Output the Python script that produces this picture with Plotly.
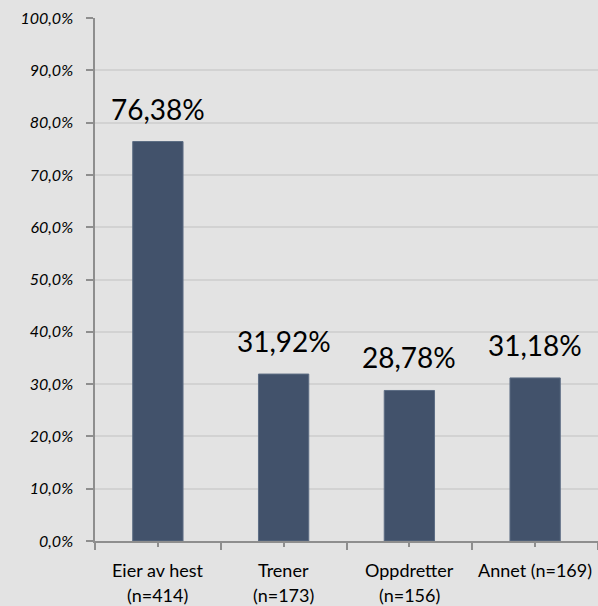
import plotly.graph_objects as go

categories = ["Eier av hest<br>(n=414)", "Trener<br>(n=173)", "Oppdretter<br>(n=156)", "Annet (n=169)"]
values = [0.7638, 0.3192, 0.2878, 0.3118]
y_ticks = [0, 0.1, 0.2, 0.3, 0.4, 0.5, 0.6, 0.7, 0.8, 0.9, 1.0]

BG = "#e3e3e3"
BAR = "#42526b"
AXIS = "#8e8e8e"
GRID = "#d2d2d2"
FONT = "Lato, Open Sans, sans-serif"

fig = go.Figure()
fig.add_trace(go.Bar(
    x=categories, y=values, width=0.4,
    marker=dict(color=BAR, line=dict(color="#5d6d84", width=1)),
    hoverinfo="skip",
))
# invisible trace on overlay axis for center ticks
fig.add_trace(go.Scatter(x=categories, y=values, xaxis="x2", mode="markers",
                         marker=dict(opacity=0), hoverinfo="skip", showlegend=False))

for c, v in zip(categories, values):
    fig.add_annotation(
        x=c, y=v, xref="x", yref="y",
        text=f"{v*100:.2f}%".replace(".", ","),
        showarrow=False, yanchor="bottom", yshift=14,
        font=dict(family=FONT, size=28, color="#000000"),
    )
    # category labels, line by line (wider line spacing than tick labels allow)
    for i, line in enumerate(c.split("<br>")):
        fig.add_annotation(
            x=c, y=0, xref="x", yref="y",
            text=line, showarrow=False, yanchor="middle",
            yshift=-(29 + 25 * i),
            font=dict(family=FONT, size=18, color="#000000"),
        )

fig.update_layout(
    width=598, height=606,
    paper_bgcolor=BG, plot_bgcolor=BG,
    margin=dict(l=95, r=0, t=18, b=65, autoexpand=False),
    separators=",.",
    showlegend=False,
    bargap=0.6,
    xaxis=dict(
        type="category", range=[-0.5, 3.5], automargin=False,
        showline=True, linecolor=AXIS, linewidth=1.5,
        ticks="outside", tickson="boundaries", ticklen=7, tickcolor=AXIS, tickwidth=1.5,
        showticklabels=False,
        showgrid=False, zeroline=False,
    ),
    xaxis2=dict(
        type="category", range=[-0.5, 3.5], overlaying="x", side="bottom",
        anchor="y", matches="x",
        showline=False, ticks="outside", ticklen=5, tickcolor=AXIS, tickwidth=1.5,
        showticklabels=False, showgrid=False, zeroline=False,
    ),
    yaxis=dict(
        range=[0, 1.0], tickvals=y_ticks, tickformat=".1%", automargin=False,
        showline=True, linecolor=AXIS, linewidth=1.5,
        ticks="outside", ticklen=7, tickcolor=AXIS, tickwidth=1.5,
        ticklabelstandoff=10,
        tickfont=dict(family=FONT, size=16, color="#000000", style="italic"),
        showgrid=True, gridcolor=GRID, gridwidth=1.5, zeroline=False,
    ),
)

fig.write_html(
    "out.html",
    config={"displayModeBar": False},
    post_script="document.body.style.margin='0';document.body.style.background='#e3e3e3';",
)
